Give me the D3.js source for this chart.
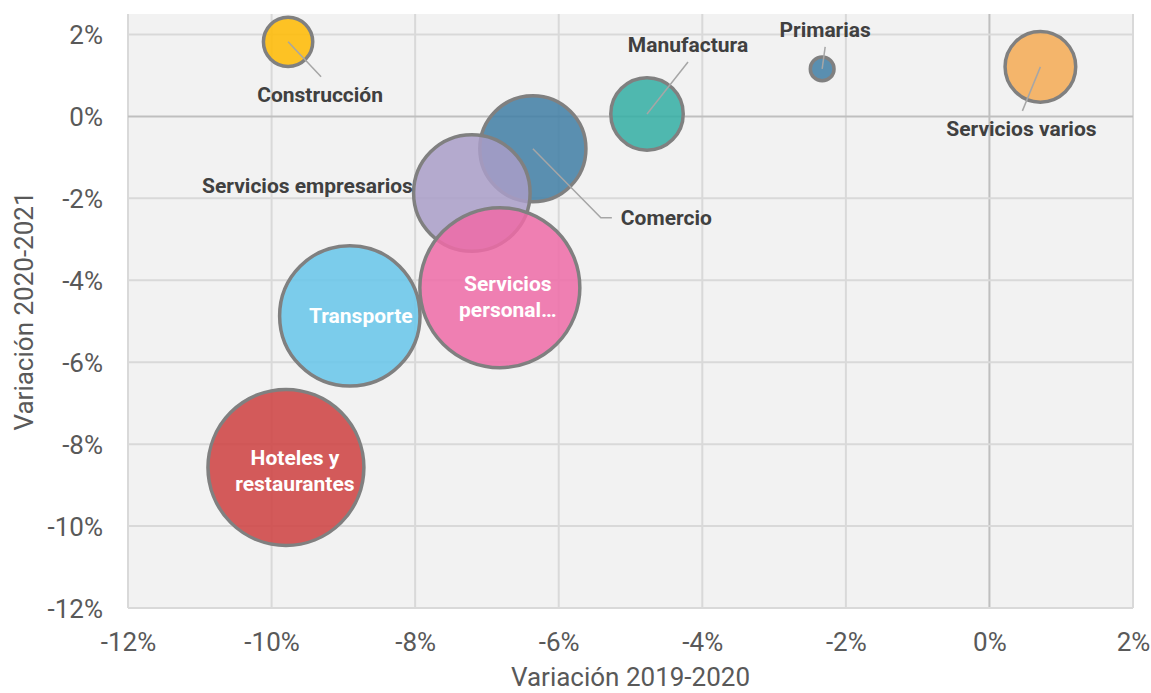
<!DOCTYPE html>
<html>
<head>
<meta charset="utf-8">
<script src="https://cdn.jsdelivr.net/npm/d3@7"></script>
<style>
  body { margin: 0; background: #fff; }
  svg { display: block; font-family: Roboto, "Noto Sans", sans-serif; }
</style>
</head>
<body>
<div id="chart"></div>
<script>
// sectores y valores
const sectores = ["Construcción", "Primarias", "Servicios varios", "Manufactura", "Comercio",
    "Servicios empresarios", "Hoteles y restaurantes", "Transporte", "Servicios personales"];
const var1920 = [-9.77, -2.33, 0.71, -4.77, -6.36, -7.21, -9.80, -8.91, -6.82];
const var2021 = [1.82, 1.16, 1.21, 0.06, -0.79, -1.87, -8.57, -4.87, -4.18];
const tamanio = [9.5, 2.2, 19.5, 20.5, 44, 53, 95, 77, 100];
const colores = ["#FFBA00", "#3F7EA4", "#F4AA54", "#32AEA3", "#3F7EA4",
    "#A99DC8", "#CE4040", "#66C6EA", "#EE6BA7"];
const xTicks = [-12, -10, -8, -6, -4, -2, 0, 2];
const yTicks = [2, 0, -2, -4, -6, -8, -10, -12];

// where each label sits, relative to its bubble
const labelLayout = {
    "Construcción": {lines: ["Construcción"], dx: 32, dy: 60, anchor: "middle", leader: [[33, 35]]},
    "Primarias": {lines: ["Primarias"], dx: 3, dy: -32, anchor: "middle", leader: [[3, -22]]},
    "Servicios varios": {lines: ["Servicios varios"], dx: -19, dy: 69, anchor: "middle", leader: [[-18, 44]]},
    "Manufactura": {lines: ["Manufactura"], dx: 41, dy: -62, anchor: "middle", leader: [[41, -52]]},
    "Comercio": {lines: ["Comercio"], dx: 88, dy: 76, anchor: "start", leader: [[68, 69], [79, 69]]},
    "Servicios empresarios": {lines: ["Servicios empresarios"], dx: -59, dy: 0, anchor: "end"},
    "Hoteles y restaurantes": {lines: ["Hoteles y", "restaurantes"], dx: 9, dy: -2, anchor: "middle", white: true},
    "Transporte": {lines: ["Transporte"], dx: 11, dy: 7, anchor: "middle", white: true},
    "Servicios personales": {lines: ["Servicios", "personal…"], dx: 8, dy: 3, anchor: "middle", white: true}
};

const width = 1151, height = 693;
const margin = {top: 14, right: 18, bottom: 85, left: 128};

const svg = d3.select("#chart").append("svg")
    .attr("width", width)
    .attr("height", height);

const x = d3.scaleLinear().domain([-12, 2]).range([margin.left, width - margin.right]);
const y = d3.scaleLinear().domain([-12, 2.5]).range([height - margin.bottom, margin.top]);
const r = d3.scaleSqrt().domain([0, 100]).range([0, 80]);

const pct = d => d + "%";

svg.append("rect")
    .attr("x", x(-12)).attr("y", y(2.5))
    .attr("width", x(2) - x(-12)).attr("height", y(-12) - y(2.5))
    .attr("fill", "#f2f2f2");

// grid
svg.append("g").selectAll("line").data(xTicks).enter().append("line")
    .attr("x1", d => x(d)).attr("x2", d => x(d))
    .attr("y1", y(2.5)).attr("y2", y(-12))
    .attr("stroke", d => d === 0 ? "#bfbfbf" : "#d9d9d9")
    .attr("stroke-width", 2);
svg.append("g").selectAll("line").data(yTicks).enter().append("line")
    .attr("x1", x(-12)).attr("x2", x(2))
    .attr("y1", d => y(d)).attr("y2", d => y(d))
    .attr("stroke", d => d === 0 ? "#bfbfbf" : "#d9d9d9")
    .attr("stroke-width", 2);

// axes
const xAxis = svg.append("g")
    .attr("transform", `translate(0,${y(-12)})`)
    .call(d3.axisBottom(x).tickValues(xTicks).tickFormat(pct).tickSize(0).tickPadding(25));
const yAxis = svg.append("g")
    .attr("transform", `translate(${x(-12)},0)`)
    .call(d3.axisLeft(y).tickValues(yTicks).tickFormat(pct).tickSize(0).tickPadding(25));
[xAxis, yAxis].forEach(a => {
    a.select(".domain").remove();
    a.selectAll("text")
        .attr("fill", "#595959")
        .style("font-size", "26px")
        .style("font-family", "Roboto, sans-serif");
});
yAxis.selectAll("text").attr("dy", "0.36em");

svg.append("text")
    .attr("x", (x(-12) + x(2)) / 2).attr("y", 686)
    .attr("text-anchor", "middle")
    .attr("fill", "#595959")
    .style("font-size", "26px")
    .text("Variación 2019-2020");
svg.append("text")
    .attr("transform", `translate(33,${(y(2.5) + y(-12)) / 2}) rotate(-90)`)
    .attr("text-anchor", "middle")
    .attr("fill", "#595959")
    .style("font-size", "26px")
    .text("Variación 2020-2021");

const data = sectores.map((s, i) => ({
    name: s, vx: var1920[i], vy: var2021[i], size: tamanio[i], color: colores[i]
}));

// bubbles
svg.append("g").selectAll("circle").data(data).enter().append("circle")
    .attr("cx", d => x(d.vx))
    .attr("cy", d => y(d.vy))
    .attr("r", d => r(d.size))
    .attr("fill", d => d.color)
    .attr("fill-opacity", 0.85)
    .attr("stroke", "#808080")
    .attr("stroke-width", 3.5);

// leader lines
const lineGen = d3.line();
svg.append("g").selectAll("path")
    .data(data.filter(d => labelLayout[d.name].leader))
    .enter().append("path")
    .attr("d", d => {
        const cx = x(d.vx), cy = y(d.vy);
        const pts = [[cx, cy]].concat(labelLayout[d.name].leader.map(p => [cx + p[0], cy + p[1]]));
        return lineGen(pts);
    })
    .attr("fill", "none")
    .attr("stroke", "#a6a6a6")
    .attr("stroke-width", 1.5);

// labels
const labels = svg.append("g").selectAll("text").data(data).enter().append("text")
    .attr("x", d => x(d.vx) + labelLayout[d.name].dx)
    .attr("y", d => y(d.vy) + labelLayout[d.name].dy)
    .attr("text-anchor", d => labelLayout[d.name].anchor)
    .attr("fill", d => labelLayout[d.name].white ? "#ffffff" : "#404040")
    .style("font-size", "21px")
    .style("font-weight", "bold");

labels.each(function (d) {
    const lay = labelLayout[d.name];
    d3.select(this).selectAll("tspan").data(lay.lines).enter().append("tspan")
        .attr("x", x(d.vx) + lay.dx)
        .attr("dy", (t, i) => i === 0 ? 0 : 26)
        .text(t => t);
});
</script>
</body>
</html>
